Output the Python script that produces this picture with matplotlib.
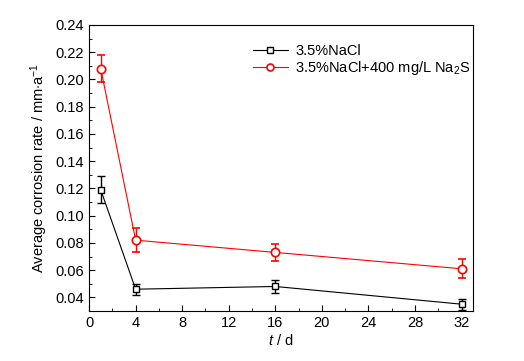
import numpy as np
import matplotlib
matplotlib.use("Agg")
import matplotlib.pyplot as plt
from matplotlib.ticker import MultipleLocator
from matplotlib.lines import Line2D

plt.rcParams['font.family'] = ['Liberation Sans', 'DejaVu Sans']
plt.rcParams['font.size'] = 10.5
plt.rcParams['mathtext.fontset'] = 'custom'
plt.rcParams['mathtext.rm'] = 'Liberation Sans'
plt.rcParams['mathtext.it'] = 'Liberation Sans:italic'

# data
days = [1, 4, 16, 32]
nacl = [0.119, 0.046, 0.048, 0.035]
nacl_err = [0.010, 0.004, 0.005, 0.004]
na2s = [0.208, 0.082, 0.073, 0.061]
na2s_err = [0.010, 0.009, 0.006, 0.007]

fig = plt.figure(figsize=(5.24, 3.61), dpi=100)
ax = fig.add_axes([0.170, 0.1385, 0.733, 0.7925])

ax.errorbar(days, nacl, yerr=nacl_err, color='black', lw=0.8, marker='s', ms=5,
            mfc='white', mec='black', mew=1, capsize=3, elinewidth=1, capthick=1)
ax.errorbar(days, na2s, yerr=na2s_err, color='red', lw=0.8, marker='o', ms=6,
            mfc='white', mec='red', mew=1.2, capsize=3, elinewidth=1, capthick=1)

ax.set_xlim(0, 33)
ax.set_ylim(0.03, 0.24)
ax.set_xticks([0, 4, 8, 12, 16, 20, 24, 28, 32])
ax.xaxis.set_minor_locator(MultipleLocator(2))
ax.set_yticks(np.arange(0.04, 0.241, 0.02))
ax.yaxis.set_minor_locator(MultipleLocator(0.01))
ax.yaxis.set_major_formatter(plt.FormatStrFormatter('%.2f'))
ax.tick_params(which='both', direction='in', top=False, right=False)
ax.tick_params(which='major', length=4)
ax.tick_params(which='minor', length=2)

ax.set_xlabel('$t$ / d', labelpad=2)
ax.set_ylabel('Average corrosion rate / mm$\\cdot$a$^{-1}$', labelpad=4)

handles = [
    Line2D([], [], color='black', lw=0.8, marker='s', ms=4, mfc='white', mec='black', mew=1),
    Line2D([], [], color='red', lw=0.8, marker='o', ms=5, mfc='white', mec='red', mew=1.2),
]
labels = ['3.5%NaCl', '3.5%NaCl+400 mg/L Na$_2$S']
ax.legend(handles, labels, loc='upper left', bbox_to_anchor=(0.40, 0.97), frameon=False,
          handlelength=2.4, handletextpad=0.5, borderaxespad=0.3, labelspacing=0.1)

fig.savefig('out.png', dpi=100)
